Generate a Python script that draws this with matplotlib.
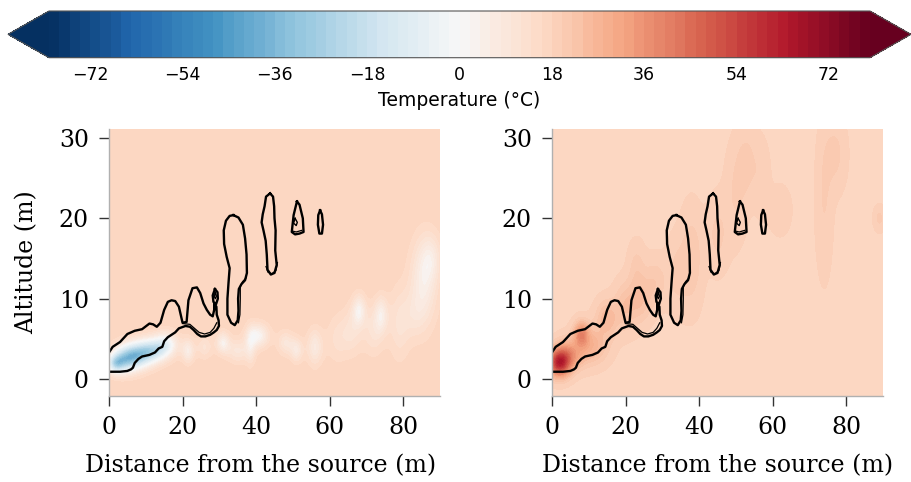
"""Plume temperature anomaly, cold vs hot release, with plume-edge contours."""

import numpy as np
import matplotlib
matplotlib.use("Agg")
import matplotlib.pyplot as plt

# colour scale
T_MIN, T_MAX, T_STEP = -80, 80, 2
CBAR_TICKS = [-72, -54, -36, -18, 0, 18, 36, 54, 72]
XTICKS = [0, 20, 40, 60, 80]
YTICKS = [0, 10, 20, 30]
T_AMBIENT = 17.5

# temperature anomalies (centre x, centre y, spread x, spread y, dT)
COLD_X = [1.8, 4.5, 8.0, 12.0, 15.5, 21.5, 26.0, 31.0, 35.0, 38.5, 40.5, 48.0, 51.0, 56.0, 62.0,
          66.0, 68.0, 72.0, 74.0, 79.0, 83.0, 85.5, 87.5]
COLD_Y = [1.9, 2.5, 3.0, 3.6, 4.4, 3.5, 4.0, 4.5, 3.5, 4.2, 5.4, 4.5, 3.6, 4.0, 5.0,
          6.0, 8.5, 6.0, 8.0, 7.0, 8.0, 12.0, 15.0]
COLD_SX = [1.6, 2.5, 2.8, 2.8, 2.2, 1.2, 1.5, 1.3, 2.0, 1.0, 2.0, 1.5, 1.2, 1.5, 2.0,
           2.0, 1.3, 2.0, 1.3, 2.0, 2.0, 2.5, 2.0]
COLD_SY = [0.8, 1.1, 1.1, 1.0, 1.0, 1.0, 1.0, 0.9, 1.0, 1.5, 1.0, 1.0, 1.0, 1.5, 2.0,
           2.0, 1.3, 2.0, 1.5, 3.0, 2.0, 3.5, 2.0]
COLD_DT = [-30, -36, -34, -30, -18, -12, -6, -14, -8, -10, -16, -8, -10, -10, -4,
           -6, -14, -6, -12, -6, -4, -12, -8]

WARM_X = [2.0, 4.5, 8.0, 10.5, 15.0, 20.0, 24.0, 23.0, 28.0, 34.0, 38.0, 45.0, 50.0,
          53.0, 57.0, 62.0, 74.0, 77.0, 89.0]
WARM_Y = [2.0, 3.0, 5.6, 4.2, 7.5, 9.0, 10.0, 14.0, 12.0, 13.0, 15.0, 18.0, 23.0,
          27.0, 25.0, 21.0, 22.0, 28.0, 20.0]
WARM_SX = [1.9, 2.5, 1.3, 3.0, 2.0, 2.0, 2.0, 1.5, 2.0, 2.0, 2.0, 2.0, 2.0,
           2.0, 1.5, 2.0, 1.5, 2.0, 1.0]
WARM_SY = [1.1, 1.2, 1.0, 1.5, 1.5, 2.0, 2.0, 2.0, 2.0, 3.0, 4.0, 3.0, 4.0,
           3.0, 3.0, 2.0, 6.0, 3.0, 1.0]
WARM_DT = [40, 16, 18, 10, 8, 6, 6, 3, 4, 3, 4, 3, 2.5, 3, 2, 2, 2.5, 3, 3]

# plume edge contours (m), same in both panels
PLUME_X = [0, 1, 3, 5, 7, 9, 11, 12, 13, 14, 15, 16, 17, 18, 19, 19.6, 20.0, 21.1, 21.6,
           22.7, 23.9, 24.8, 25.7, 26.6, 27.5, 28.2, 28.6, 28.6, 29.2, 29.3, 29.8, 29.9,
           29.3, 28.5, 27.5, 26.2, 25.0, 24.0, 23.0, 22.0, 20.8, 19.0, 18.0, 17.0, 16.0,
           15.0, 14.5, 13.5, 12.5, 11.0, 9.0, 8.0, 7.0, 6.5, 6.0, 5.0, 3.0, 0]
PLUME_Y = [3.3, 4.0, 4.6, 5.6, 6.0, 6.2, 6.9, 6.8, 6.5, 7.0, 8.6, 9.6, 9.8, 9.7, 9.0, 7.8,
           7.0, 7.1, 9.8, 11.3, 11.4, 10.7, 9.4, 8.6, 8.0, 7.8, 8.6, 9.4, 9.0, 8.0, 7.3,
           6.6, 6.1, 5.8, 5.5, 5.3, 5.3, 5.6, 6.1, 6.5, 6.6, 6.3, 5.8, 5.5, 5.2, 4.7, 4.0,
           3.8, 3.3, 3.0, 2.8, 2.5, 2.0, 1.4, 1.2, 1.0, 0.9, 0.9]

TALL_X = [33.8, 35.2, 36.4, 37.0, 37.4, 37.5, 37.0, 36.0, 35.3, 35.1, 35.2, 35.0, 34.2,
          33.2, 32.2, 32.2, 32.5, 32.8, 32.0, 31.3, 31.2, 31.8, 32.8, 33.8]
TALL_Y = [20.4, 20.1, 19.2, 17.5, 15.5, 13.2, 12.3, 11.8, 11.2, 10.0, 8.5, 7.3, 6.7,
          7.0, 8.0, 10.0, 12.0, 13.8, 15.2, 16.8, 18.5, 19.7, 20.3, 20.4]

UPPER_X = [43.8, 44.6, 44.9, 45.0, 45.3, 45.2, 45.6, 45.0, 44.0, 43.1, 42.9, 42.6, 42.0,
           41.5, 41.8, 42.3, 42.7, 43.8]
UPPER_Y = [23.1, 22.7, 21.5, 20.0, 18.5, 16.0, 14.2, 13.2, 13.0, 13.6, 15.5, 17.2, 18.5,
           19.5, 20.5, 21.5, 22.7, 23.1]

PUFF_X = [51.1, 51.8, 52.7, 52.9, 51.8, 50.6, 49.7, 50.2, 51.1]
PUFF_Y = [22.1, 21.7, 20.0, 18.3, 18.1, 18.0, 18.3, 20.4, 22.1]
PUFF_IN_X = [50.6, 51.2, 50.9, 50.2, 50.6]
PUFF_IN_Y = [20.0, 19.5, 19.1, 19.4, 20.0]

FAR_X = [57.4, 57.9, 58.2, 57.9, 57.2, 56.8, 56.9, 57.4]
FAR_Y = [21.0, 20.5, 19.2, 18.1, 18.1, 19.2, 20.4, 21.0]

RING_X = [28.8, 29.5, 29.6, 29.1, 28.4, 28.2, 28.8]
RING_Y = [11.2, 10.8, 10.0, 9.3, 9.6, 10.4, 11.2]
RING_IN_X = [28.9, 29.2, 28.9, 28.6, 28.9]
RING_IN_Y = [10.7, 10.3, 10.0, 10.3, 10.7]

# second (thin) contour where the two edges run side by side
THIN = [
    ([20.0, 22.0, 23.0, 24.5, 26.0, 27.5, 28.5, 29.3], [6.9, 6.8, 6.4, 5.8, 5.6, 5.8, 6.3, 7.0]),
    ([37.3, 36.3, 35.7, 35.7, 35.6, 35.2], [12.6, 12.1, 11.5, 10.0, 8.0, 7.0]),
    ([42.7, 43.2, 44.3, 45.4, 45.8], [14.0, 13.3, 13.1, 13.5, 14.5]),
    ([50.0, 50.9, 52.4], [18.4, 18.3, 18.5]),
]
OUTLINES = [(PLUME_X, PLUME_Y), (TALL_X, TALL_Y), (UPPER_X, UPPER_Y), (PUFF_X, PUFF_Y),
            (FAR_X, FAR_Y), (RING_X, RING_Y)]
INNER = [(PUFF_IN_X, PUFF_IN_Y), (RING_IN_X, RING_IN_Y)]

XLIM = (0, 90)
YLIM = (-2.12, 31.12)


def field(xs, ys, sxs, sys_, dts, gx, gy):
    t = np.full_like(gx, T_AMBIENT)
    for x0, y0, sx, sy, dt in zip(xs, ys, sxs, sys_, dts):
        t += dt * np.exp(-0.5 * (((gx - x0) / sx) ** 2 + ((gy - y0) / sy) ** 2))
    return t


gx, gy = np.meshgrid(np.linspace(*XLIM, 361), np.linspace(*YLIM, 167))
t_cold = field(COLD_X, COLD_Y, COLD_SX, COLD_SY, COLD_DT, gx, gy)
t_hot = field(WARM_X, WARM_Y, WARM_SX, WARM_SY, WARM_DT, gx, gy)
levels = np.arange(T_MIN, T_MAX + 1, T_STEP)

fig = plt.figure(figsize=(9.11, 4.82), dpi=100)
W, H = 911, 482
cax = fig.add_axes([8 / W, 1 - 57.7 / H, 903 / W, 46.7 / H])
axes = [fig.add_axes([109 / W, 1 - 396 / H, 331 / W, 267 / H]),
        fig.add_axes([552 / W, 1 - 396 / H, 331 / W, 267 / H])]

serif = {"family": "DejaVu Serif", "size": 17}
for ax, t in zip(axes, [t_cold, t_hot]):
    cf = ax.contourf(gx, gy, t, levels=levels, cmap="RdBu_r", extend="both")
    for xs, ys in OUTLINES:
        ax.plot(xs, ys, color="k", lw=1.7, solid_joinstyle="round")
    for xs, ys in INNER:
        ax.plot(xs, ys, color="k", lw=1.0)
    for xs, ys in THIN:
        ax.plot(xs, ys, color="k", lw=0.9)
    ax.set_xlim(*XLIM)
    ax.set_ylim(*YLIM)
    ax.set_xticks(XTICKS)
    ax.set_yticks(YTICKS)
    for side in ("top", "right"):
        ax.spines[side].set_visible(False)
    for side in ("left", "bottom"):
        ax.spines[side].set_color("#b0b0b0")
        ax.spines[side].set_linewidth(1.0)
    ax.tick_params(length=7.5, width=1, color="#333333", pad=7)
    for lab in ax.get_xticklabels() + ax.get_yticklabels():
        lab.set_fontfamily("DejaVu Serif")
        lab.set_fontsize(17)
    ax.set_xlabel("Distance from the source (m)", fontdict=serif, labelpad=11)
axes[0].set_ylabel("Altitude (m)", fontdict=serif, labelpad=15)
axes[0].xaxis.label.set_x(0.457)

cb = fig.colorbar(cf, cax=cax, orientation="horizontal", ticks=CBAR_TICKS)
cb.outline.set_edgecolor("#555555")
cb.outline.set_linewidth(0.8)
cb.ax.tick_params(length=0, pad=6, labelsize=12.5)
cb.set_label("Temperature (°C)", fontsize=13.5, labelpad=5)

fig.savefig("out.png", dpi=100)
